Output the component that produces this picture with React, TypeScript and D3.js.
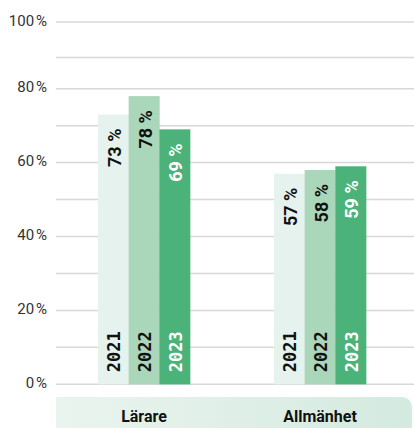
import { useRef, useEffect } from "react";
import * as d3 from "d3";

const categories = ["Lärare", "Allmänhet"];
const years = ["2021", "2022", "2023"];
// values per category, in order of years
const larare = [73, 78, 69];
const allmanhet = [57, 58, 59];
const gridTicks = [0, 10, 20, 30, 40, 50, 60, 70, 80, 90, 100];
const labelTicks = [0, 20, 40, 60, 80, 100];

const barColors = ["#e5f2ed", "#aad6ba", "#4bb37a"];
const textColors = ["#111", "#111", "#fff"];

const W = 414;
const H = 428;

export default function App() {
    const svgRef = useRef<SVGSVGElement>(null);

    useEffect(() => {
        const svg = d3.select(svgRef.current as SVGSVGElement);
        svg.selectAll("*").remove();

        const series = [larare, allmanhet];

        // the top of the source axis is squeezed, so the scale is piecewise
        const y = d3.scaleLinear()
            .domain([0, 80, 90, 100])
            .range([384.3, 88.7, 57.5, 22]);

        const x0 = d3.scaleBand<string>()
            .domain(categories)
            .range([56, 408]);

        const barW = 30.7;
        const x1 = d3.scaleBand<string>()
            .domain(years)
            .range([-barW * 1.5, barW * 1.5]);

        // gradient for the category strip
        const defs = svg.append("defs");
        const grad = defs.append("linearGradient")
            .attr("id", "strip")
            .attr("x1", "0").attr("x2", "1").attr("y1", "0").attr("y2", "0");
        grad.append("stop").attr("offset", "0").attr("stop-color", "#eaf4ef");
        grad.append("stop").attr("offset", "1").attr("stop-color", "#d4eadf");

        // grid
        svg.append("g")
            .selectAll("line")
            .data(gridTicks)
            .join("line")
            .attr("x1", 56)
            .attr("x2", W)
            .attr("y1", d => y(d))
            .attr("y2", d => y(d))
            .attr("stroke", "#d8d8d8")
            .attr("stroke-width", 1.5);

        svg.append("g")
            .selectAll("text")
            .data(labelTicks)
            .join("text")
            .attr("x", 47)
            .attr("y", d => y(d) - 1.5)
            .attr("text-anchor", "end")
            .attr("dominant-baseline", "central")
            .attr("font-family", "Roboto, sans-serif")
            .attr("font-size", 15)
            .attr("fill", "#333")
            .text(d => `${d}\u202f%`);

        // category strip
        const stripTop = 397;
        const r = 10;
        svg.append("path")
            .attr("d", `M56,${stripTop} H${412 - r} A${r},${r} 0 0 1 412,${stripTop + r} V${H} H56 Z`)
            .attr("fill", "url(#strip)");

        svg.append("g")
            .selectAll("text")
            .data(categories)
            .join("text")
            .attr("x", d => (x0(d) as number) + x0.bandwidth() / 2)
            .attr("y", 416)
            .attr("text-anchor", "middle")
            .attr("dominant-baseline", "central")
            .attr("font-family", "Roboto, sans-serif")
            .attr("font-weight", "bold")
            .attr("font-size", 16)
            .attr("fill", "#111")
            .text(d => d);

        // bars
        const groups = svg.append("g")
            .selectAll("g")
            .data(categories)
            .join("g")
            .attr("transform", d => `translate(${(x0(d) as number) + x0.bandwidth() / 2},0)`);

        groups.each(function (cat, ci) {
            const g = d3.select(this);
            const vals = series[ci];
            years.forEach((yr, i) => {
                const bx = x1(yr) as number;
                const cx = bx + barW / 2;
                g.append("rect")
                    .attr("x", bx)
                    .attr("width", barW + 0.3)
                    .attr("y", y(vals[i]))
                    .attr("height", y(0) - y(vals[i]))
                    .attr("fill", barColors[i]);

                g.append("text")
                    .attr("transform", `translate(${cx + 1},${y(vals[i]) + 14}) rotate(-90)`)
                    .attr("text-anchor", "end")
                    .attr("dominant-baseline", "central")
                    .attr("font-family", "Roboto, sans-serif")
                    .attr("font-weight", "bold")
                    .attr("font-size", 18)
                    .attr("fill", textColors[i])
                    .text(`${vals[i]} %`);

                g.append("text")
                    .attr("transform", `translate(${cx + 1},${y(0) - 12}) rotate(-90)`)
                    .attr("text-anchor", "start")
                    .attr("dominant-baseline", "central")
                    .attr("font-family", "'DejaVu Sans Mono', monospace")
                    .attr("font-weight", "bold")
                    .attr("font-size", 17)
                    .attr("fill", textColors[i])
                    .text(yr);
            });
        });
    }, []);

    return (
        <svg
            ref={svgRef}
            width={W}
            height={H}
            style={{ display: "block", position: "absolute", left: 0, top: 0, background: "#fff" }}
        />
    );
}
